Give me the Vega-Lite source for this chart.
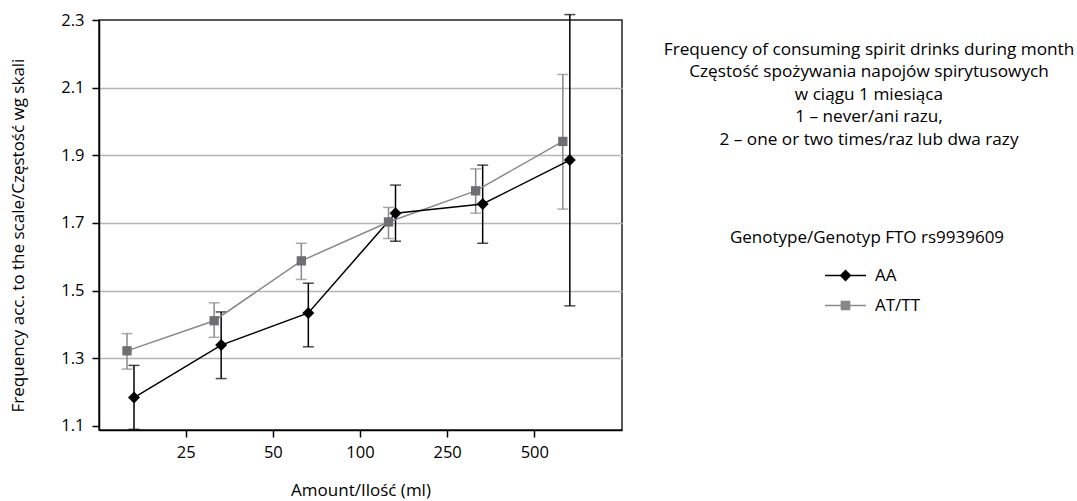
{
  "$schema": "https://vega.github.io/schema/vega-lite/v6.json",
  "width": 523,
  "height": 410,
  "autosize": {"type": "none"},
  "padding": {"left": 99, "top": 20, "right": 455, "bottom": 71},
  "background": "white",
  "config": {
    "font": "Open Sans",
    "view": {"stroke": "#222", "strokeWidth": 1.5}
  },
  "title": {
    "text": ["Frequency of consuming spirit drinks during month", "Częstość spożywania napojów spirytusowych", "w ciągu 1 miesiąca", "1 – never/ani razu,", "2 – one or two times/raz lub dwa razy"],
    "anchor": "start", "frame": "group", "align": "center", "baseline": "top",
    "dx": 770, "dy": 136, "offset": 0,
    "fontSize": 17.2, "fontWeight": "normal", "lineHeight": 22.5, "color": "black"
  },
  "data": {"values": [
    {"genotype": "AT/TT", "amount": "<25", "mean": 1.322, "lo": 1.268, "hi": 1.373},
    {"genotype": "AT/TT", "amount": "25–50", "mean": 1.411, "lo": 1.362, "hi": 1.464},
    {"genotype": "AT/TT", "amount": "50–100", "mean": 1.588, "lo": 1.533, "hi": 1.640},
    {"genotype": "AT/TT", "amount": "100–250", "mean": 1.703, "lo": 1.654, "hi": 1.746},
    {"genotype": "AT/TT", "amount": "250–500", "mean": 1.795, "lo": 1.729, "hi": 1.860},
    {"genotype": "AT/TT", "amount": ">500", "mean": 1.941, "lo": 1.741, "hi": 2.139},
    {"genotype": "AA", "amount": "<25", "mean": 1.184, "lo": 1.090, "hi": 1.279},
    {"genotype": "AA", "amount": "25–50", "mean": 1.339, "lo": 1.240, "hi": 1.437},
    {"genotype": "AA", "amount": "50–100", "mean": 1.434, "lo": 1.334, "hi": 1.522},
    {"genotype": "AA", "amount": "100–250", "mean": 1.729, "lo": 1.646, "hi": 1.812},
    {"genotype": "AA", "amount": "250–500", "mean": 1.756, "lo": 1.640, "hi": 1.871},
    {"genotype": "AA", "amount": ">500", "mean": 1.886, "lo": 1.455, "hi": 2.316}
  ]},
  "encoding": {
    "x": {
      "field": "amount", "type": "nominal",
      "scale": {"domain": ["<25", "25–50", "50–100", "100–250", "250–500", ">500"], "paddingInner": 0, "paddingOuter": 0},
      "axis": {
        "title": "Amount/Ilość (ml)", "titlePadding": 22, "labelAngle": 0, "bandPosition": 0, "labelPadding": 7, "labelOffset": -43.6,
        "labelFontSize": 16.5, "labelColor": "black", "titleFontSize": 17, "titleFontWeight": "normal", "titleColor": "black",
        "domainColor": "black", "domainWidth": 1.5, "tickWidth": 1.5, "tickSize": 7,
        "labelExpr": "datum.value == '<25' ? '' : (datum.value == '>500' ? '500' : split(datum.value, '–')[0])",
        "tickColor": {"condition": {"test": "datum.value == '<25'", "value": "transparent"}, "value": "black"},
        "grid": false
      }
    },
    "xOffset": {"field": "genotype", "type": "nominal", "scale": {"type": "point", "padding": 0, "domain": ["AT/TT", "AA"], "range": [28, 35]}}
  },
  "layer": [
    {
      "mark": {"type": "rule", "strokeWidth": 1.5, "clip": false},
      "encoding": {
        "y": {"field": "lo", "type": "quantitative"},
        "y2": {"field": "hi"},
        "color": {"field": "genotype", "type": "nominal"}
      }
    },
    {
      "mark": {"type": "tick", "orient": "horizontal", "size": 11, "thickness": 1.5, "clip": false},
      "encoding": {
        "y": {"field": "lo", "type": "quantitative"},
        "color": {"field": "genotype", "type": "nominal"}
      }
    },
    {
      "mark": {"type": "tick", "orient": "horizontal", "size": 11, "thickness": 1.5, "clip": false},
      "encoding": {
        "y": {"field": "hi", "type": "quantitative"},
        "color": {"field": "genotype", "type": "nominal"}
      }
    },
    {
      "mark": {"type": "line", "strokeWidth": 1.5},
      "encoding": {
        "y": {
          "field": "mean", "type": "quantitative",
          "scale": {"domain": [1.088, 2.3], "nice": false, "zero": false},
          "axis": {
            "title": "Frequency acc. to the scale/Częstość wg skali",
            "values": [1.1, 1.3, 1.5, 1.7, 1.9, 2.1, 2.3], "format": ".1f", "labelPadding": 8,
            "labelFontSize": 16.5, "labelColor": "black", "titleFontSize": 17, "titleFontWeight": "normal", "titleColor": "black",
            "domainColor": "black", "domainWidth": 1.5, "tickColor": "black", "tickWidth": 1.5, "tickSize": 7,
            "titleX": -72, "titleY": 215,
            "grid": true, "gridWidth": 1.5,
            "gridColor": {"condition": {"test": "datum.value < 1.2 || datum.value > 2.2", "value": "transparent"}, "value": "#b5b5b5"}
          }
        },
        "color": {
          "field": "genotype", "type": "nominal",
          "scale": {"domain": ["AA", "AT/TT"], "range": ["#000000", "#888888"]},
          "legend": {
            "orient": "none", "legendX": 631, "legendY": 210, "padding": 0,
            "title": "Genotype/Genotyp FTO rs9939609", "titleLimit": 500,
            "titleFontSize": 17, "titleFontWeight": "normal", "titleColor": "black", "titleAnchor": "middle", "titlePadding": 7,
            "labelFontSize": 17, "labelColor": "black", "labelOffset": 8,
            "symbolSize": 1681, "symbolOffset": 10, "symbolStrokeWidth": 1.5,
            "rowPadding": -6,
            "encode": {"symbols": {"update": {
              "shape": {"signal": "datum.value == 'AA' ? 'M-1,0L1,0M0,-0.24L0.24,0L0,0.24L-0.24,0Z' : 'M-1,0L1,0M-0.2,-0.2L0.2,-0.2L0.2,0.2L-0.2,0.2Z'"},
              "fill": {"signal": "datum.value == 'AA' ? '#000000' : '#6e6e73'"},
              "stroke": {"signal": "datum.value == 'AA' ? '#000000' : '#999999'"},
              "strokeWidth": {"value": 1.5},
              "strokeOpacity": {"value": 1},
              "fillOpacity": {"value": 1},
              "opacity": {"value": 1}
            }}}
          }
        }
      }
    },
    {
      "transform": [{"filter": "datum.genotype == 'AT/TT'"}],
      "mark": {"type": "point", "shape": "square", "size": 87, "filled": true, "fill": "#6e6e73", "opacity": 1},
      "encoding": {
        "y": {"field": "mean", "type": "quantitative"}
      }
    },
    {
      "transform": [{"filter": "datum.genotype == 'AA'"}],
      "mark": {"type": "point", "shape": "diamond", "size": 144, "filled": true, "fill": "#000000", "opacity": 1},
      "encoding": {
        "y": {"field": "mean", "type": "quantitative"}
      }
    }
  ]
}
